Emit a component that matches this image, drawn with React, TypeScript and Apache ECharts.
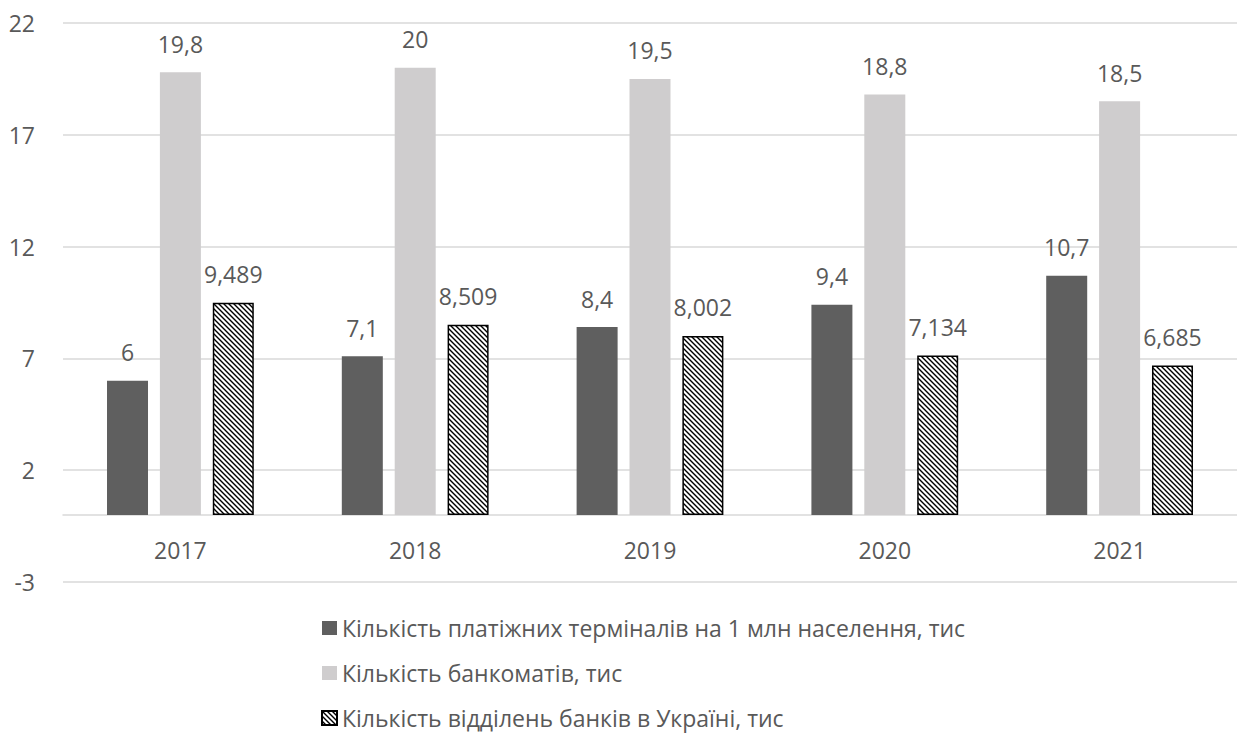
import React, { useEffect, useRef } from "react";
import * as echarts from "echarts";

const categories = ["2017", "2018", "2019", "2020", "2021"];
const terminals = [6, 7.1, 8.4, 9.4, 10.7];
const atms = [19.8, 20, 19.5, 18.8, 18.5];
const branches = [9.489, 8.509, 8.002, 7.134, 6.685];
const seriesNames = [
  "Кількість платіжних терміналів на 1 млн населення, тис",
  "Кількість банкоматів, тис",
  "Кількість відділень банків в Україні, тис",
];

const FONT = "'Open Sans', 'Noto Sans', sans-serif";
const TXT = "#595959";

const hatchSvg =
  "<svg xmlns='http://www.w3.org/2000/svg' width='5' height='5'>" +
  "<rect width='5' height='5' fill='white'/>" +
  "<path d='M-1,-1 L6,6 M-1,4 L1,6 M4,-1 L6,1' stroke='black' stroke-width='1.4'/>" +
  "</svg>";
const hatchUrl = "data:image/svg+xml;charset=utf-8," + encodeURIComponent(hatchSvg);

const fmt = (p: any) => String(p.value).replace(".", ",");

export default function App() {
  const ref = useRef<HTMLDivElement>(null);
  useEffect(() => {
    document.body.style.margin = "0";
    const chart = echarts.init(ref.current!, null, { renderer: "svg" });
    const label = {
      show: true,
      position: "top" as const,
      distance: 17,
      formatter: fmt,
      color: TXT,
      fontSize: 23,
      fontFamily: FONT,
    };
    chart.setOption({
      animation: false,
      textStyle: { fontFamily: FONT },
      grid: { left: 63, right: -11, top: 23, bottom: 151, containLabel: false },
      legend: {
        orient: "vertical",
        left: 316,
        top: 611,
        height: 140,
        icon: "rect",
        itemWidth: 15,
        itemHeight: 14,
        itemGap: 21,
        textStyle: { color: TXT, fontSize: 23, fontFamily: FONT, lineHeight: 24 },
        data: seriesNames,
      },
      xAxis: {
        type: "category",
        data: categories,
        axisLine: { show: true, onZero: true, lineStyle: { color: "#d9d9d9", width: 1.5 } },
        axisTick: { show: false },
        axisLabel: { color: TXT, fontSize: 23, fontFamily: FONT, margin: -44 },
      },
      yAxis: {
        type: "value",
        min: -3,
        max: 22,
        interval: 5,
        axisLine: { show: false },
        axisTick: { show: false },
        splitLine: { lineStyle: { color: "#d9d9d9", width: 1.5 } },
        axisLabel: { color: TXT, fontSize: 23, fontFamily: FONT, margin: 28 },
      },
      series: [
        {
          name: seriesNames[0],
          type: "bar",
          data: terminals,
          barWidth: 41,
          barGap: "29%",
          itemStyle: { color: "#5f5f5f" },
          label,
        },
        {
          name: seriesNames[1],
          type: "bar",
          data: atms,
          barWidth: 41,
          barGap: "29%",
          itemStyle: { color: "#cfcdce" },
          label,
        },
        {
          name: seriesNames[2],
          type: "bar",
          data: branches,
          barWidth: 41,
          barGap: "29%",
          itemStyle: {
            color: { image: hatchUrl, repeat: "repeat" },
            borderColor: "#000",
            borderWidth: 1.5,
          },
          label,
        },
      ],
    });
    return () => chart.dispose();
  }, []);
  return <div ref={ref} style={{ width: 1237, height: 733 }} />;
}
